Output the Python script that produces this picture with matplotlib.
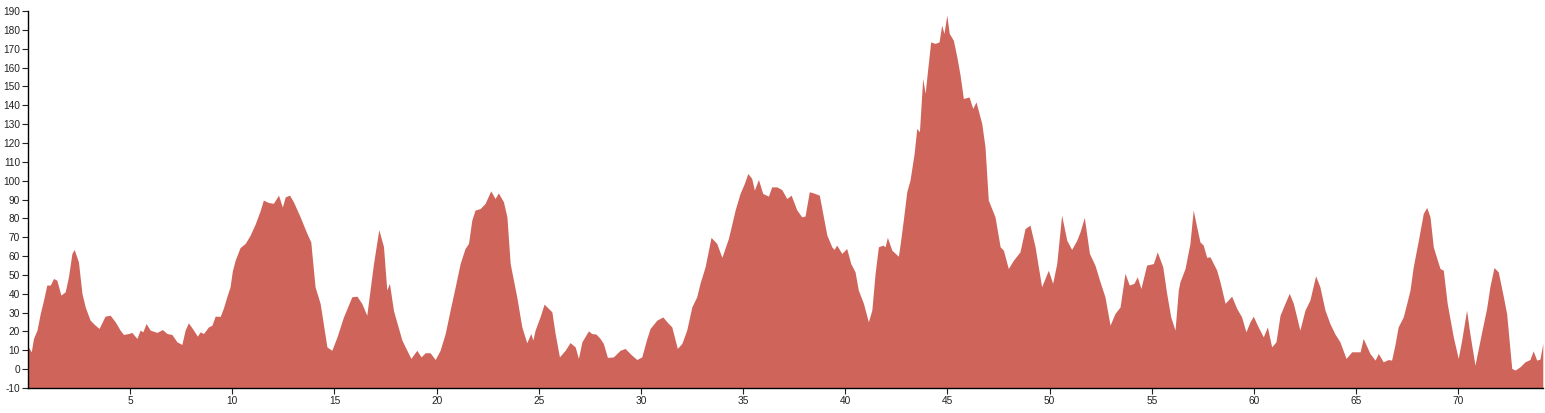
import matplotlib
matplotlib.use("Agg")
import matplotlib.pyplot as plt

# Distance (km) along the route
distance_km = [
    0.02, 0.16, 0.27, 0.44, 0.60, 0.76, 0.92, 1.09, 1.25, 1.41, 1.61, 1.82, 1.98, 2.15, 2.26, 2.47,
    2.64, 2.80, 3.04, 3.29, 3.48, 3.77, 4.02, 4.27, 4.51, 4.67, 4.92, 5.08, 5.33, 5.49, 5.62, 5.78,
    5.98, 6.31, 6.58, 6.80, 7.04, 7.29, 7.53, 7.69, 7.85, 8.10, 8.29, 8.43, 8.59, 8.83, 9.00, 9.16,
    9.41, 9.57, 9.73, 9.89, 10.00, 10.14, 10.38, 10.63, 10.87, 11.12, 11.36, 11.52, 11.77, 12.01,
    12.26, 12.45, 12.59, 12.80, 12.99, 13.32, 13.65, 13.84, 14.05, 14.30, 14.63, 14.87, 15.12,
    15.44, 15.85, 16.10, 16.34, 16.58, 16.91, 17.17, 17.40, 17.56, 17.69, 17.89, 18.30, 18.74,
    19.03, 19.24, 19.44, 19.68, 19.93, 20.17, 20.42, 20.66, 20.91, 21.15, 21.39, 21.56, 21.72,
    21.88, 22.13, 22.37, 22.65, 22.86, 23.02, 23.27, 23.44, 23.60, 23.92, 24.17, 24.41, 24.61,
    24.71, 24.82, 25.06, 25.26, 25.64, 25.80, 26.01, 26.29, 26.53, 26.78, 26.94, 27.11, 27.43,
    27.59, 27.80, 28.00, 28.16, 28.36, 28.65, 28.98, 29.22, 29.55, 29.80, 30.04, 30.29, 30.45,
    30.78, 31.07, 31.27, 31.51, 31.78, 32.00, 32.24, 32.49, 32.73, 32.89, 33.14, 33.43, 33.71,
    33.96, 34.28, 34.61, 34.85, 35.06, 35.23, 35.42, 35.55, 35.75, 35.96, 36.24, 36.40, 36.65,
    36.89, 37.14, 37.35, 37.63, 37.87, 38.03, 38.24, 38.44, 38.73, 38.93, 39.10, 39.34, 39.45,
    39.58, 39.83, 40.07, 40.27, 40.48, 40.64, 40.89, 41.13, 41.30, 41.46, 41.62, 41.84, 41.95,
    42.06, 42.28, 42.60, 42.68, 42.84, 43.01, 43.17, 43.37, 43.50, 43.63, 43.79, 43.91, 44.02,
    44.18, 44.39, 44.59, 44.72, 44.83, 44.97, 45.09, 45.29, 45.46, 45.62, 45.78, 46.06, 46.24,
    46.40, 46.68, 46.84, 47.00, 47.33, 47.58, 47.74, 47.98, 48.23, 48.55, 48.80, 49.04, 49.29,
    49.61, 49.94, 50.15, 50.35, 50.59, 50.84, 51.08, 51.33, 51.49, 51.70, 51.95, 52.22, 52.47,
    52.71, 52.96, 53.20, 53.45, 53.69, 53.90, 54.13, 54.29, 54.47, 54.75, 55.08, 55.27, 55.54,
    55.73, 55.93, 56.14, 56.30, 56.38, 56.63, 56.87, 57.03, 57.20, 57.36, 57.52, 57.69, 57.85,
    58.18, 58.34, 58.59, 58.91, 59.16, 59.40, 59.61, 59.81, 59.97, 60.17, 60.46, 60.66, 60.87,
    61.08, 61.28, 61.52, 61.73, 61.93, 62.25, 62.50, 62.74, 63.02, 63.23, 63.48, 63.72, 63.97,
    64.21, 64.51, 64.79, 65.03, 65.20, 65.35, 65.68, 65.93, 66.09, 66.33, 66.58, 66.74, 66.90,
    67.06, 67.31, 67.48, 67.64, 67.80, 68.05, 68.29, 68.46, 68.62, 68.78, 68.98, 69.11, 69.27,
    69.46, 69.76, 70.00, 70.17, 70.41, 70.57, 70.82, 71.15, 71.39, 71.55, 71.75, 71.96, 72.21,
    72.37, 72.62, 72.78, 73.02, 73.27, 73.51, 73.67, 73.84, 74.00, 74.14,
]

# Elevation (m)
elevation_m = [
    11.8, 9.2, 16.3, 20.7, 29.5, 36.6, 44.6, 44.6, 48.1, 47.2, 39.3, 41.0, 49.0, 61.4, 63.5, 56.9,
    40.2, 33.0, 26.0, 23.3, 21.6, 28.1, 28.6, 25.1, 20.7, 18.4, 18.9, 19.5, 16.3, 20.7, 19.8, 24.2,
    20.7, 19.5, 21.0, 18.9, 18.4, 14.5, 13.1, 20.7, 24.6, 20.7, 17.5, 19.8, 18.9, 22.4, 23.3, 28.1,
    28.0, 32.6, 38.4, 43.7, 52.0, 57.8, 64.5, 66.7, 71.0, 77.0, 84.0, 89.7, 88.4, 88.0,
    92.3, 86.0, 91.4, 92.3, 88.8, 80.8, 72.0, 67.5, 43.7, 34.8, 11.8, 10.0, 17.0,
    27.7, 38.4, 38.7, 34.8, 28.6, 56.0, 74.0, 65.0, 42.0, 45.5, 31.0, 15.4, 5.7,
    10.0, 6.5, 8.7, 8.7, 5.1, 10.0, 18.9, 31.3, 43.7, 56.0, 64.0, 66.7, 79.0,
    84.4, 85.2, 87.9, 94.6, 90.5, 93.5, 88.8, 80.8, 56.0, 38.4, 22.4, 14.0, 18.9,
    15.4, 20.7, 27.7, 34.5, 30.4, 18.9, 6.5, 10.0, 14.1, 11.8, 5.7, 14.5, 20.3,
    18.9, 18.6, 16.3, 13.6, 6.2, 6.5, 10.0, 11.0, 7.4, 5.1, 6.5, 16.3, 21.6,
    26.0, 27.7, 25.1, 22.4, 11.0, 13.6, 20.7, 33.0, 38.4, 45.5, 54.3, 69.9, 66.7,
    59.3, 69.3, 84.4, 93.2, 98.5, 103.8, 101.2, 95.0, 100.6, 93.2, 91.8, 96.7, 96.7,
    95.3, 90.5, 92.3, 84.4, 80.8, 81.2, 94.1, 93.5, 92.3, 80.8, 71.1, 64.9, 63.5,
    65.8, 61.4, 64.0, 56.0, 51.6, 41.9, 34.9, 25.1, 31.3, 50.8, 64.9, 65.8, 64.9,
    69.9, 63.1, 59.9, 65.8, 79.0, 94.1, 100.3, 114.4, 127.7, 125.9, 154.2, 146.3, 157.7,
    173.6, 172.8, 173.6, 182.5, 178.1, 187.8, 178.1, 174.5, 165.7, 156.0, 143.6, 144.4, 138.3,
    141.8, 130.3, 117.9, 89.7, 80.8, 64.9, 63.1, 53.4, 57.8, 62.2, 74.6, 76.4, 64.9,
    43.7, 52.5, 45.5, 56.0, 81.7, 68.4, 63.5, 68.4, 72.8, 80.5, 61.4, 55.2, 46.3,
    38.4, 23.3, 29.5, 33.0, 50.8, 44.6, 45.5, 49.0, 42.8, 55.2, 56.0, 62.2, 54.3,
    40.2, 27.7, 20.7, 41.9, 46.3, 53.4, 66.7, 84.4, 75.5, 67.5, 65.8, 59.3, 59.6,
    52.5, 46.3, 34.9, 38.7, 32.2, 27.7, 19.8, 25.1, 28.1, 23.3, 17.1, 22.4, 11.8,
    14.5, 28.6, 34.9, 40.2, 34.9, 20.7, 31.3, 36.6, 49.5, 43.7, 31.3, 24.2, 18.6,
    14.5, 5.7, 9.2, 9.2, 9.2, 16.3, 8.3, 4.8, 8.3, 3.9, 5.1, 4.8, 12.7,
    22.4, 27.7, 34.9, 41.9, 54.3, 68.4, 82.6, 85.8, 80.8, 64.9, 57.8, 53.4, 52.5,
    34.9, 17.1, 5.7, 15.4, 31.3, 18.9, 2.1, 19.8, 32.2, 43.7, 53.9, 51.6, 38.4,
    29.5, 0.4, -0.5, 1.2, 3.9, 5.1, 9.7, 4.8, 5.3, 13.6,
]

x_ticks = [5, 10, 15, 20, 25, 30, 35, 40, 45, 50, 55, 60, 65, 70]
y_ticks = list(range(-10, 200, 10))

plt.rcParams['font.family'] = ['Liberation Sans', 'DejaVu Sans']

fig = plt.figure(figsize=(15.45, 4.13), dpi=100)
ax = fig.add_axes([28 / 1545, 1 - 388 / 413, (1543 - 28) / 1545, (388 - 11) / 413])

ax.fill_between(distance_km, elevation_m, -10, color='#ce645a', linewidth=0)

ax.set_xlim(0, 74.15)
ax.set_ylim(-10, 190)
ax.set_xticks(x_ticks)
ax.set_xticklabels([str(t) for t in x_ticks])
ax.set_yticks(y_ticks)
ax.set_yticklabels([str(t) for t in y_ticks])

for side in ('top', 'right'):
    ax.spines[side].set_visible(False)
for side in ('left', 'bottom'):
    ax.spines[side].set_color('black')
    ax.spines[side].set_linewidth(1.0)

ax.tick_params(axis='both', direction='out', length=4.3, width=0.8, color='#222222',
               labelsize=7.3, labelcolor='#222222', pad=1.5)

fig.savefig('out.png', dpi=100)
